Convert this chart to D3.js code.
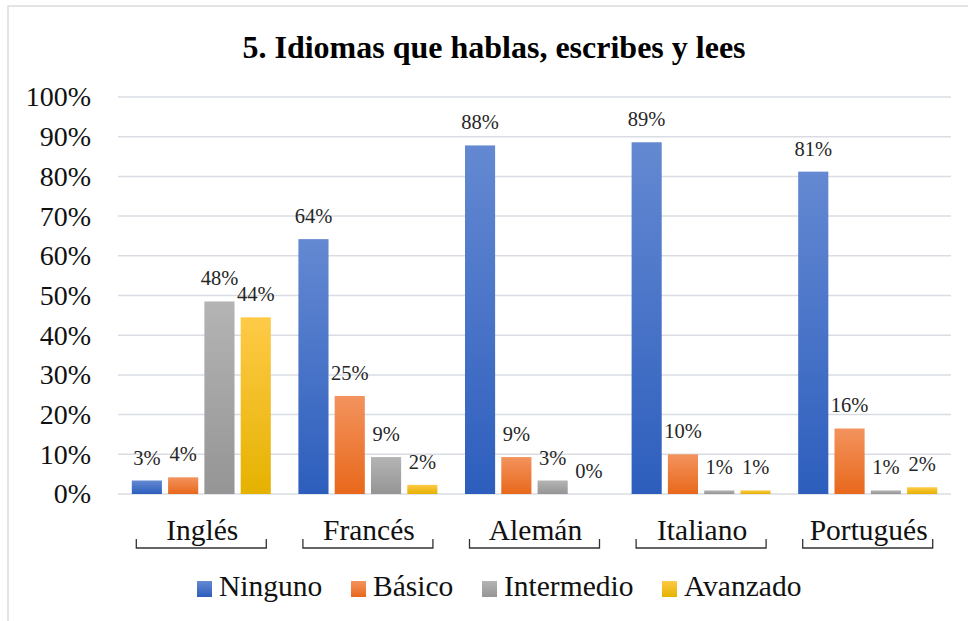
<!DOCTYPE html>
<html>
<head>
<meta charset="utf-8">
<script src="https://cdn.jsdelivr.net/npm/d3@7"></script>
<style>
  body { margin: 0; background: #fff; }
  text { font-family: "Liberation Serif", "Times New Roman", serif; }
</style>
</head>
<body>
<div id="chart"></div>
<script>
// chart data
const categories = ["Inglés", "Francés", "Alemán", "Italiano", "Portugués"]
const seriesNames = ["Ninguno", "Básico", "Intermedio", "Avanzado"]
const ninguno = [3.4, 64.2, 87.8, 88.6, 81.2]
const basico = [4.2, 24.7, 9.3, 10.0, 16.5]
const intermedio = [48.5, 9.3, 3.4, 0.9, 0.9]
const avanzado = [44.5, 2.3, 0, 0.9, 1.7]
const labels = [
  ["3%", "64%", "88%", "89%", "81%"],
  ["4%", "25%", "9%", "10%", "16%"],
  ["48%", "9%", "3%", "1%", "1%"],
  ["44%", "2%", "0%", "1%", "2%"]
]
const yTicks = [0, 10, 20, 30, 40, 50, 60, 70, 80, 90, 100]

const seriesValues = [ninguno, basico, intermedio, avanzado]
// gradient colours: top, bottom
const colors = [
  ["#6489d2", "#2d5ebd"],
  ["#f3935e", "#e8681b"],
  ["#b4b4b4", "#959595"],
  ["#ffca47", "#e5b200"]
]

const W = 968, H = 621
const plotLeft = 118, plotRight = 951, plotTop = 97, plotBottom = 494

const svg = d3.select("#chart").append("svg")
  .attr("width", W)
  .attr("height", H)

// gradients
const defs = svg.append("defs")
colors.forEach(function(c, i) {
  const g = defs.append("linearGradient")
    .attr("id", "grad" + i)
    .attr("x1", 0).attr("y1", 0).attr("x2", 0).attr("y2", 1)
  g.append("stop").attr("offset", "0%").attr("stop-color", c[0])
  g.append("stop").attr("offset", "100%").attr("stop-color", c[1])
})

// chart border
svg.append("rect")
  .attr("x", 8).attr("y", 6)
  .attr("width", W + 10).attr("height", H + 10)
  .attr("fill", "none")
  .attr("stroke", "#dcdcdc")
  .attr("stroke-width", 1.5)

// title
svg.append("text")
  .attr("x", 494)
  .attr("y", 58)
  .attr("text-anchor", "middle")
  .attr("font-size", 32)
  .attr("font-weight", "bold")
  .attr("fill", "#000")
  .text("5. Idiomas que hablas, escribes y lees")

// scales
const x0 = d3.scaleBand().domain(categories).range([plotLeft, plotRight])
const x1 = d3.scaleBand().domain(seriesNames).range([0, x0.bandwidth()])
  .paddingInner(0.17).paddingOuter(0.38)
const y = d3.scaleLinear().domain([0, 100]).range([plotBottom, plotTop])

// gridlines
svg.append("g")
  .selectAll("line")
  .data(yTicks)
  .enter()
  .append("line")
  .attr("x1", plotLeft).attr("x2", plotRight)
  .attr("y1", function(d) { return y(d) })
  .attr("y2", function(d) { return y(d) })
  .attr("stroke", "#d9dde3")
  .attr("stroke-width", 1.5)

// y axis labels
const yAxis = svg.append("g")
  .attr("transform", "translate(" + plotLeft + ",0)")
  .call(d3.axisLeft(y).tickValues(yTicks).tickSize(0).tickPadding(27)
    .tickFormat(function(d) { return d + "%" }))
yAxis.select(".domain").remove()
yAxis.selectAll("text")
  .attr("font-size", 28)
  .attr("fill", "#111")

// bars
seriesNames.forEach(function(s, i) {
  const g = svg.append("g")
  g.selectAll("rect")
    .data(seriesValues[i])
    .enter()
    .append("rect")
    .attr("x", function(d, j) { return x0(categories[j]) + x1(s) })
    .attr("y", function(d) { return y(d) })
    .attr("width", x1.bandwidth())
    .attr("height", function(d) { return plotBottom - y(d) })
    .attr("fill", "url(#grad" + i + ")")

  g.selectAll("text")
    .data(seriesValues[i])
    .enter()
    .append("text")
    .attr("x", function(d, j) { return x0(categories[j]) + x1(s) + x1.bandwidth() / 2 })
    .attr("y", function(d) { return y(d) - 16 })
    .attr("text-anchor", "middle")
    .attr("font-size", 20.5)
    .attr("fill", "#262626")
    .text(function(d, j) { return labels[i][j] })
})

// category labels with brackets
const cat = svg.append("g")
cat.selectAll("text")
  .data(categories)
  .enter()
  .append("text")
  .attr("x", function(d) { return x0(d) + x0.bandwidth() / 2 + 1 })
  .attr("y", 540)
  .attr("text-anchor", "middle")
  .attr("font-size", 29.5)
  .attr("fill", "#111")
  .text(function(d) { return d })

cat.selectAll("path")
  .data(categories)
  .enter()
  .append("path")
  .attr("d", function(d) {
    const c = x0(d) + x0.bandwidth() / 2
    return "M" + (c - 65) + ",539V548H" + (c + 65) + "V539"
  })
  .attr("fill", "none")
  .attr("stroke", "#333")
  .attr("stroke-width", 1.3)

// legend
const legendX = [197, 351, 482, 662]
const legend = svg.append("g")
seriesNames.forEach(function(s, i) {
  legend.append("rect")
    .attr("x", legendX[i]).attr("y", 581)
    .attr("width", 15).attr("height", 16)
    .attr("fill", "url(#grad" + i + ")")
  legend.append("text")
    .attr("x", legendX[i] + 22)
    .attr("y", 596)
    .attr("font-size", 29.5)
    .attr("fill", "#111")
    .text(s)
})
</script>
</body>
</html>
